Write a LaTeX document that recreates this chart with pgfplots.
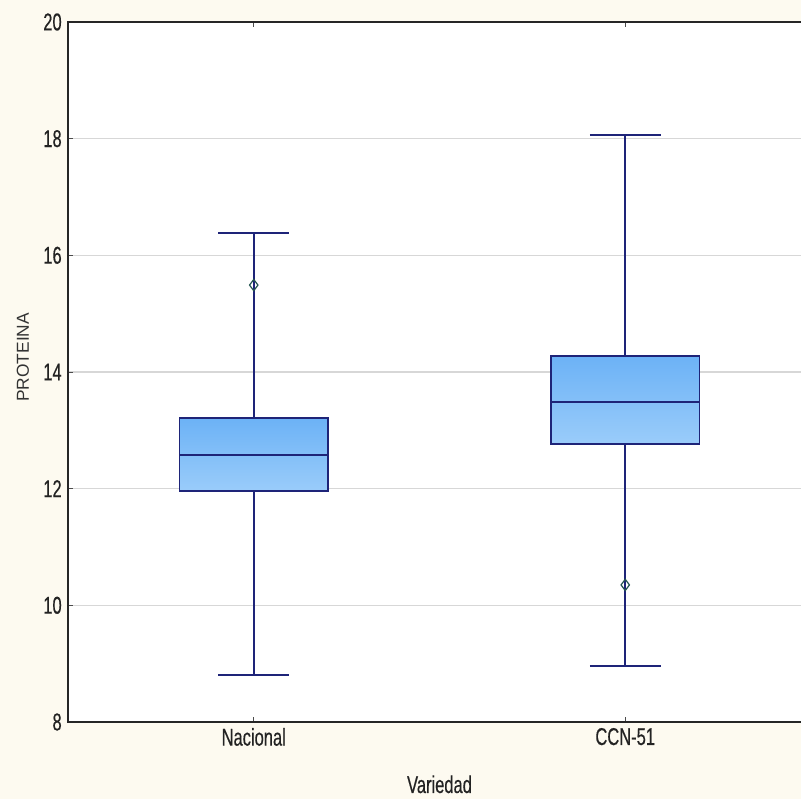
\documentclass[border=0pt]{standalone}
\usepackage{pgfplots}
\pgfplotsset{compat=1.18}
\usepgfplotslibrary{statistics}
\usepackage{fontspec}
\setmainfont{Liberation Sans}[FakeStretch=0.68, FakeBold=0.4]
\newfontfamily\ylabfont{Liberation Sans}
\definecolor{bg}{RGB}{253,250,240}
\definecolor{navy}{RGB}{30,36,120}
\definecolor{boxtop}{RGB}{108,178,246}
\definecolor{boxbot}{RGB}{154,204,250}
\definecolor{outl}{RGB}{35,85,80}
\definecolor{gridc}{RGB}{215,215,215}
\definecolor{txt}{RGB}{35,35,35}
\begin{document}
\begin{tikzpicture}
\fill[bg] (-51pt,-57.75pt) rectangle (549.75pt,541.5pt);
\begin{axis}[
  scale only axis, width=557.25pt, height=525pt,
  xmin=0.5, xmax=2.5, ymin=8, ymax=20,
  xtick={1,2}, xticklabels={Nacional,CCN-51},
  ytick={8,10,...,20},
  ymajorgrids, grid style={gridc, line width=0.8pt},
  axis background/.style={fill=white},
  axis line style={black!85, line width=1.1pt},
  tick style={black!70, line width=0.6pt},
  major tick length=4pt,
  tick align=inside,
  tick label style={font=\fontsize{18.2}{21}\selectfont, text=txt},
  yticklabel style={xshift=-1.2pt},
  xticklabel style={yshift=-1pt},
  /pgf/number format/assume math mode=true,
  xlabel={Variedad},
  xlabel style={font=\fontsize{18.2}{21}\selectfont, text=txt, at={(axis description cs:0.5,0)}, anchor=base, yshift=-53.25pt},
  ylabel={PROTEINA},
  ylabel style={font=\ylabfont\fontsize{13}{15}\selectfont, text=black!80, at={(axis description cs:-0.0606,0.521)}, anchor=center},
  boxplot/draw direction=y,
  boxplot/every box/.style={draw=navy, line width=1.2pt, top color=boxtop, bottom color=boxbot},
  boxplot/every median/.style={draw=navy, line width=1.4pt},
  boxplot/every whisker/.style={draw=navy, line width=1.3pt},
]
\addplot[draw=navy, line width=1.3pt, mark=diamond, mark size=4.2pt, mark options={draw=outl, fill=white, line width=0.9pt, solid},
  boxplot prepared={draw position=1, lower whisker=8.80, lower quartile=11.96, median=12.58, upper quartile=13.21, upper whisker=16.38, box extend=0.4, whisker extend=0.19}]
  table[row sep=\\, y index=0] {data\\ 15.49\\};
\addplot[draw=navy, line width=1.3pt, mark=diamond, mark size=4.2pt, mark options={draw=outl, fill=white, line width=0.9pt, solid},
  boxplot prepared={draw position=2, lower whisker=8.96, lower quartile=12.77, median=13.49, upper quartile=14.27, upper whisker=18.06, box extend=0.4, whisker extend=0.19}]
  table[row sep=\\, y index=0] {data\\ 10.35\\};
\end{axis}
\pgfresetboundingbox
\useasboundingbox (-51pt,-57.75pt) rectangle (549.75pt,541.5pt);
\end{tikzpicture}
\end{document}
